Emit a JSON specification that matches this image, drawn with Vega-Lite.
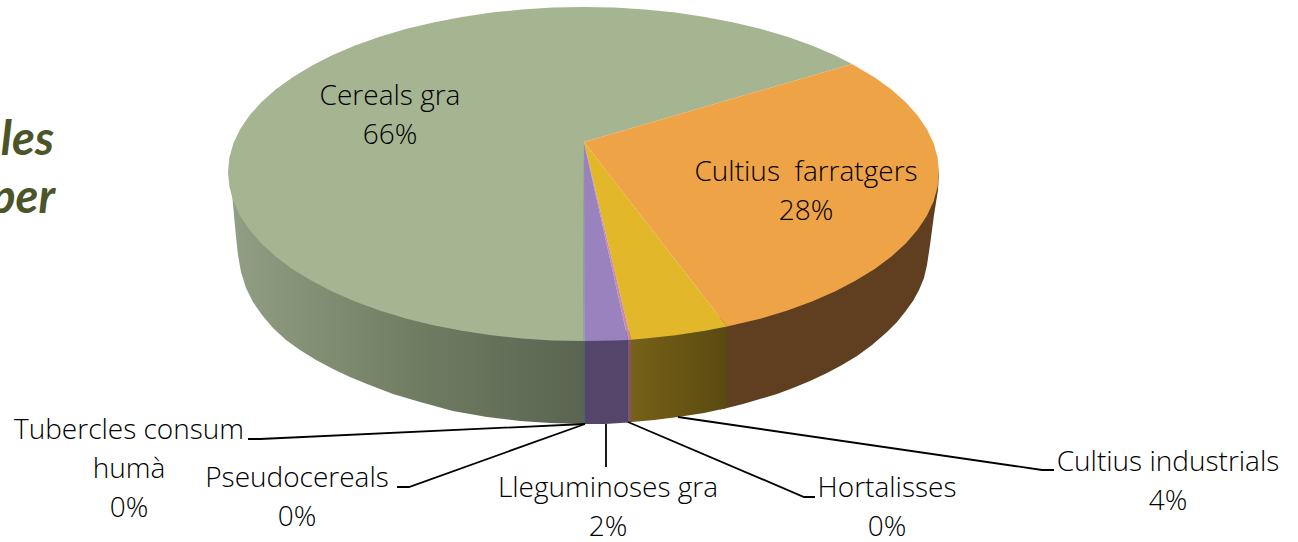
{"$schema":"https://vega.github.io/schema/vega-lite/v6.json","width":1298,"height":542,"padding":0,"autosize":"none","background":"white","config":{"view":{"stroke":null}},
"datasets":{"shapes":[
{"s":"wG","i":0,"x":228,"y":172},{"s":"wG","i":1,"x":232,"y":193},{"s":"wG","i":2,"x":234,"y":215},{"s":"wG","i":3,"x":236,"y":237},{"s":"wG","i":4,"x":238,"y":255},{"s":"wG","i":5,"x":241,"y":272},{"s":"wG","i":6,"x":246,"y":288},{"s":"wG","i":7,"x":253,"y":302},{"s":"wG","i":8,"x":262,"y":315},{"s":"wG","i":9,"x":273,"y":328},{"s":"wG","i":10,"x":286,"y":340},{"s":"wG","i":11,"x":300,"y":350},{"s":"wG","i":12,"x":316,"y":360},{"s":"wG","i":13,"x":333,"y":369},{"s":"wG","i":14,"x":350,"y":377},{"s":"wG","i":15,"x":367,"y":384},{"s":"wG","i":16,"x":393,"y":394},{"s":"wG","i":17,"x":420,"y":402},{"s":"wG","i":18,"x":453,"y":411},{"s":"wG","i":19,"x":487,"y":417},{"s":"wG","i":20,"x":520,"y":421},{"s":"wG","i":21,"x":550,"y":423},{"s":"wG","i":22,"x":584,"y":424},{"s":"wG","i":23,"x":584,"y":142},
{"s":"wO","i":0,"x":720,"y":320},{"s":"wO","i":1,"x":720,"y":409.5},{"s":"wO","i":2,"x":727,"y":408},{"s":"wO","i":3,"x":743,"y":404},{"s":"wO","i":4,"x":760,"y":399},{"s":"wO","i":5,"x":777,"y":394},{"s":"wO","i":6,"x":793,"y":388},{"s":"wO","i":7,"x":810,"y":381},{"s":"wO","i":8,"x":827,"y":373},{"s":"wO","i":9,"x":842,"y":365},{"s":"wO","i":10,"x":857,"y":356},{"s":"wO","i":11,"x":872,"y":345},{"s":"wO","i":12,"x":887,"y":332},{"s":"wO","i":13,"x":897,"y":322},{"s":"wO","i":14,"x":905,"y":312},{"s":"wO","i":15,"x":913,"y":301},{"s":"wO","i":16,"x":919,"y":290},{"s":"wO","i":17,"x":924,"y":278},{"s":"wO","i":18,"x":927,"y":265},{"s":"wO","i":19,"x":930,"y":245},{"s":"wO","i":20,"x":934,"y":215},{"s":"wO","i":21,"x":938,"y":190},{"s":"wO","i":22,"x":939,"y":172},{"s":"wO","i":23,"x":700,"y":172},
{"s":"wY","i":0,"x":629,"y":330},{"s":"wY","i":1,"x":629,"y":422.2},{"s":"wY","i":2,"x":654,"y":420},{"s":"wY","i":3,"x":678,"y":417},{"s":"wY","i":4,"x":704,"y":413},{"s":"wY","i":5,"x":727,"y":408},{"s":"wY","i":6,"x":727,"y":320},
{"s":"wK","i":0,"x":626,"y":330},{"s":"wK","i":1,"x":626,"y":422.7},{"s":"wK","i":2,"x":631,"y":422},{"s":"wK","i":3,"x":631,"y":330},
{"s":"wP","i":0,"x":584,"y":330},{"s":"wP","i":1,"x":584,"y":424},{"s":"wP","i":2,"x":605,"y":424},{"s":"wP","i":3,"x":628,"y":422.5},{"s":"wP","i":4,"x":628,"y":330},
{"s":"wT","i":0,"x":583,"y":335},{"s":"wT","i":1,"x":583,"y":424},{"s":"wT","i":2,"x":585,"y":424},{"s":"wT","i":3,"x":585,"y":335},
{"s":"tG","i":0,"x":584,"y":142},{"s":"tG","i":1,"x":583.5,"y":341},{"s":"tG","i":2,"x":552.5,"y":340.4},{"s":"tG","i":3,"x":521.8,"y":338.4},{"s":"tG","i":4,"x":491.5,"y":335.2},{"s":"tG","i":5,"x":461.9,"y":330.8},{"s":"tG","i":6,"x":433.3,"y":325.2},{"s":"tG","i":7,"x":405.7,"y":318.4},{"s":"tG","i":8,"x":379.6,"y":310.4},{"s":"tG","i":9,"x":355,"y":301.5},{"s":"tG","i":10,"x":332.1,"y":291.5},{"s":"tG","i":11,"x":311.2,"y":280.6},{"s":"tG","i":12,"x":292.3,"y":268.9},{"s":"tG","i":13,"x":275.6,"y":256.5},{"s":"tG","i":14,"x":261.3,"y":243.4},{"s":"tG","i":15,"x":249.4,"y":229.8},{"s":"tG","i":16,"x":240.1,"y":215.7},{"s":"tG","i":17,"x":233.4,"y":201.3},{"s":"tG","i":18,"x":229.4,"y":186.7},{"s":"tG","i":19,"x":228,"y":172},{"s":"tG","i":20,"x":229.4,"y":157.6},{"s":"tG","i":21,"x":233.4,"y":143.3},{"s":"tG","i":22,"x":240.1,"y":129.3},{"s":"tG","i":23,"x":249.4,"y":115.6},{"s":"tG","i":24,"x":261.3,"y":102.3},{"s":"tG","i":25,"x":275.6,"y":89.5},{"s":"tG","i":26,"x":292.3,"y":77.4},{"s":"tG","i":27,"x":311.2,"y":65.9},{"s":"tG","i":28,"x":332.1,"y":55.3},{"s":"tG","i":29,"x":355,"y":45.6},{"s":"tG","i":30,"x":379.6,"y":36.8},{"s":"tG","i":31,"x":405.7,"y":29.1},{"s":"tG","i":32,"x":433.3,"y":22.5},{"s":"tG","i":33,"x":461.9,"y":17},{"s":"tG","i":34,"x":491.5,"y":12.6},{"s":"tG","i":35,"x":521.8,"y":9.5},{"s":"tG","i":36,"x":552.5,"y":7.6},{"s":"tG","i":37,"x":583.5,"y":7},{"s":"tG","i":38,"x":614.5,"y":7.6},{"s":"tG","i":39,"x":645.2,"y":9.5},{"s":"tG","i":40,"x":675.5,"y":12.6},{"s":"tG","i":41,"x":705.1,"y":17},{"s":"tG","i":42,"x":733.7,"y":22.5},{"s":"tG","i":43,"x":761.3,"y":29.1},{"s":"tG","i":44,"x":787.4,"y":36.8},{"s":"tG","i":45,"x":812,"y":45.6},{"s":"tG","i":46,"x":834.9,"y":55.3},{"s":"tG","i":47,"x":852,"y":64},
{"s":"tO","i":0,"x":584,"y":142},{"s":"tO","i":1,"x":852,"y":64},{"s":"tO","i":2,"x":874.7,"y":77.4},{"s":"tO","i":3,"x":891.4,"y":89.5},{"s":"tO","i":4,"x":905.7,"y":102.3},{"s":"tO","i":5,"x":917.6,"y":115.6},{"s":"tO","i":6,"x":926.9,"y":129.3},{"s":"tO","i":7,"x":933.6,"y":143.3},{"s":"tO","i":8,"x":937.6,"y":157.6},{"s":"tO","i":9,"x":939,"y":172},{"s":"tO","i":10,"x":937.6,"y":186.7},{"s":"tO","i":11,"x":933.6,"y":201.3},{"s":"tO","i":12,"x":926.9,"y":215.7},{"s":"tO","i":13,"x":917.6,"y":229.8},{"s":"tO","i":14,"x":905.7,"y":243.4},{"s":"tO","i":15,"x":891.4,"y":256.5},{"s":"tO","i":16,"x":874.7,"y":268.9},{"s":"tO","i":17,"x":855.8,"y":280.6},{"s":"tO","i":18,"x":834.9,"y":291.5},{"s":"tO","i":19,"x":812,"y":301.5},{"s":"tO","i":20,"x":787.4,"y":310.4},{"s":"tO","i":21,"x":761.3,"y":318.4},{"s":"tO","i":22,"x":727,"y":326.4},
{"s":"tY","i":0,"x":584,"y":142},{"s":"tY","i":1,"x":727,"y":326.4},{"s":"tY","i":2,"x":705.1,"y":330.8},{"s":"tY","i":3,"x":675.5,"y":335.2},{"s":"tY","i":4,"x":645.2,"y":338.4},{"s":"tY","i":5,"x":631,"y":339.7},
{"s":"tK","i":0,"x":584,"y":142},{"s":"tK","i":1,"x":631,"y":339.7},{"s":"tK","i":2,"x":628,"y":340},
{"s":"tP","i":0,"x":584,"y":142},{"s":"tP","i":1,"x":628,"y":340},{"s":"tP","i":2,"x":614.5,"y":340.4},{"s":"tP","i":3,"x":584,"y":341},
{"s":"tT","i":0,"x":584,"y":142},{"s":"tT","i":1,"x":585,"y":341},{"s":"tT","i":2,"x":583,"y":341}
],
"leaders":[
{"s":"a","i":0,"x":248,"y":439},{"s":"a","i":1,"x":260,"y":439},{"s":"a","i":2,"x":585,"y":424},
{"s":"b","i":0,"x":397,"y":487},{"s":"b","i":1,"x":409,"y":487},{"s":"b","i":2,"x":585,"y":424},
{"s":"c","i":0,"x":606,"y":424},{"s":"c","i":1,"x":606,"y":467},
{"s":"d","i":0,"x":628,"y":422},{"s":"d","i":1,"x":804,"y":497},{"s":"d","i":2,"x":815,"y":497},
{"s":"e","i":0,"x":678,"y":417},{"s":"e","i":1,"x":1042,"y":470},{"s":"e","i":2,"x":1054,"y":470}
],
"labels":[
{"t":"Cereals gra","x":390,"y":97},{"t":"66%","x":390,"y":136},
{"t":"Cultius\u00a0 farratgers","x":806,"y":173},{"t":"28%","x":806,"y":212},
{"t":"Tubercles consum","x":129,"y":431},{"t":"humà","x":129,"y":470},{"t":"0%","x":129,"y":509},
{"t":"Pseudocereals","x":297,"y":479},{"t":"0%","x":297,"y":518},
{"t":"Lleguminoses gra","x":608,"y":489},{"t":"2%","x":608,"y":528},
{"t":"Hortalisses","x":887,"y":489},{"t":"0%","x":887,"y":528},
{"t":"Cultius industrials","x":1168,"y":463},{"t":"4%","x":1168,"y":502}
],
"title":[{"t":"les","x":54,"y":141},{"t":"per","x":55,"y":199}]},
"encoding":{"x":{"field":"x","type":"quantitative","scale":{"domain":[0,1298],"nice":false,"zero":false},"axis":null},"y":{"field":"y","type":"quantitative","scale":{"domain":[0,542],"reverse":true,"nice":false,"zero":false},"axis":null}},
"layer":[
{"data":{"name":"shapes"},"transform":[{"filter":"datum.s==='wG'"}],"mark":{"type":"line","stroke":null,"fill":{"gradient":"linear","x1":0,"y1":0,"x2":1,"y2":0,"stops":[{"offset":0,"color":"#929F84"},{"offset":0.54,"color":"#6F7C62"},{"offset":1,"color":"#5A6450"}]}},"encoding":{"order":{"field":"i"}}},
{"data":{"name":"shapes"},"transform":[{"filter":"datum.s==='wO'"}],"mark":{"type":"line","stroke":null,"fill":"#5F3F20"},"encoding":{"order":{"field":"i"}}},
{"data":{"name":"shapes"},"transform":[{"filter":"datum.s==='wY'"}],"mark":{"type":"line","stroke":null,"fill":{"gradient":"linear","x1":0,"y1":0,"x2":1,"y2":0,"stops":[{"offset":0,"color":"#786218"},{"offset":1,"color":"#5A4A10"}]}},"encoding":{"order":{"field":"i"}}},
{"data":{"name":"shapes"},"transform":[{"filter":"datum.s==='wK'"}],"mark":{"type":"line","stroke":null,"fill":"#80566A"},"encoding":{"order":{"field":"i"}}},
{"data":{"name":"shapes"},"transform":[{"filter":"datum.s==='wP'"}],"mark":{"type":"line","stroke":null,"fill":"#54466A"},"encoding":{"order":{"field":"i"}}},
{"data":{"name":"shapes"},"transform":[{"filter":"datum.s==='wT'"}],"mark":{"type":"line","stroke":null,"fill":"#4E6468"},"encoding":{"order":{"field":"i"}}},
{"data":{"name":"shapes"},"transform":[{"filter":"datum.s==='tG'"}],"mark":{"type":"line","stroke":null,"fill":"#A5B592"},"encoding":{"order":{"field":"i"}}},
{"data":{"name":"shapes"},"transform":[{"filter":"datum.s==='tO'"}],"mark":{"type":"line","stroke":null,"fill":"#EFA347"},"encoding":{"order":{"field":"i"}}},
{"data":{"name":"shapes"},"transform":[{"filter":"datum.s==='tY'"}],"mark":{"type":"line","stroke":null,"fill":"#E2B729"},"encoding":{"order":{"field":"i"}}},
{"data":{"name":"shapes"},"transform":[{"filter":"datum.s==='tK'"}],"mark":{"type":"line","stroke":null,"fill":"#C88CA8"},"encoding":{"order":{"field":"i"}}},
{"data":{"name":"shapes"},"transform":[{"filter":"datum.s==='tP'"}],"mark":{"type":"line","stroke":null,"fill":"#9A82BE"},"encoding":{"order":{"field":"i"}}},
{"data":{"name":"shapes"},"transform":[{"filter":"datum.s==='tT'"}],"mark":{"type":"line","stroke":null,"fill":"#8FA7A0"},"encoding":{"order":{"field":"i"}}},
{"data":{"name":"leaders"},"mark":{"type":"line","stroke":"#000000","strokeWidth":1.8},"encoding":{"detail":{"field":"s"},"order":{"field":"i"}}},
{"data":{"name":"labels"},"mark":{"type":"text","font":"Open Sans","fontWeight":300,"fontSize":28,"align":"center","baseline":"middle","color":"#000000"},"encoding":{"text":{"field":"t"}}},
{"data":{"name":"title"},"mark":{"type":"text","font":"Lato","fontWeight":"bold","fontStyle":"italic","fontSize":47,"align":"right","baseline":"middle","color":"#4B5527"},"encoding":{"text":{"field":"t"}}}
]}
